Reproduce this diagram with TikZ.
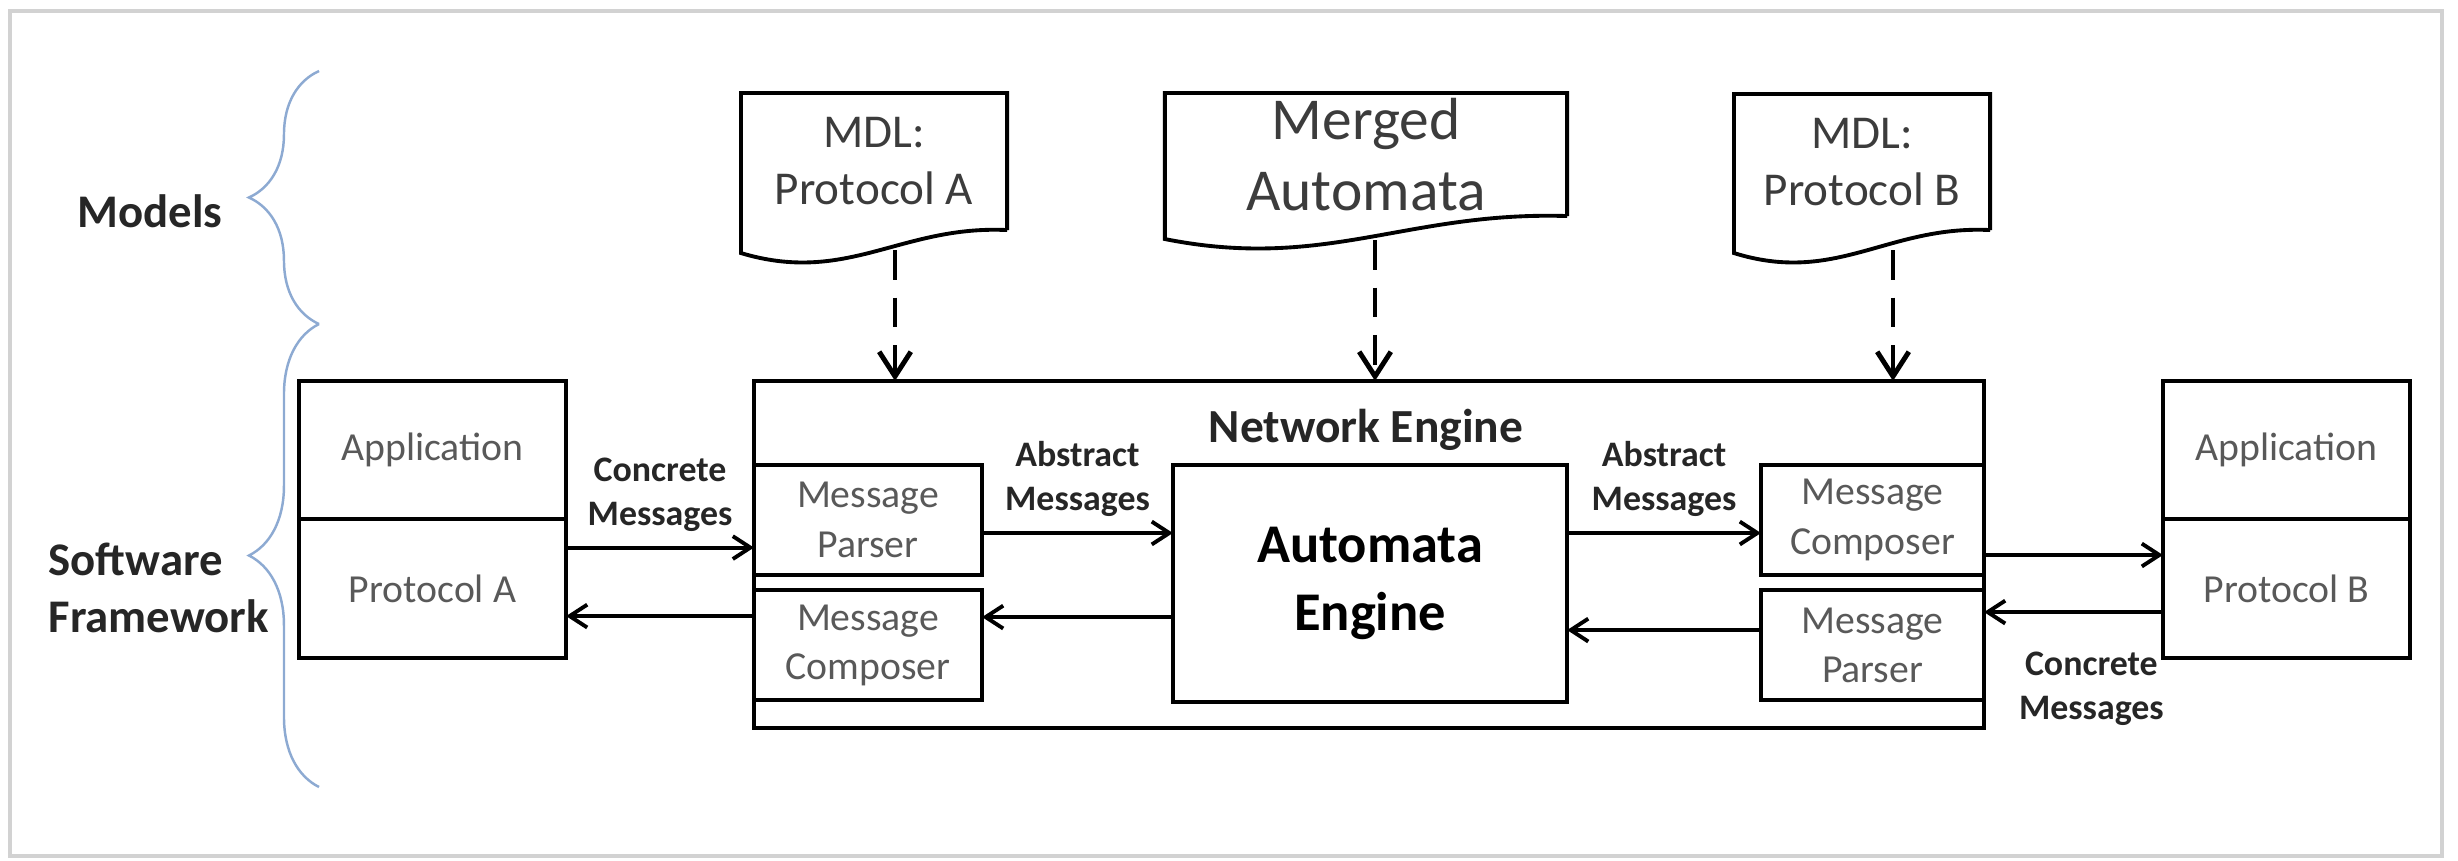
\documentclass[tikz,border=0pt]{standalone}
\usepackage{fontspec}
\setmainfont{Carlito}
\usepackage{xcolor}
\usetikzlibrary{arrows.meta,positioning,calc,decorations.pathreplacing}

\definecolor{boxtext}{RGB}{89,89,89}
\definecolor{doctext}{RGB}{60,60,60}
\definecolor{darktext}{RGB}{38,38,38}
\definecolor{bracecol}{RGB}{141,170,210}
\definecolor{framecol}{RGB}{210,210,210}

% outline of a document node: flat top, wavy bottom
\newcommand{\docoutline}[1]{%
  \draw[line width=1.1pt, line join=miter] (#1.south east) -- (#1.north east) -- (#1.north west)
    -- ($(#1.south west)+(0,23)$)
    .. controls ($(#1.south west)!0.4!(#1.south east)+(0,55)$) and ($(#1.south west)!0.6!(#1.south east)+(0,-5)$) .. (#1.south east);}

\begin{document}
\begin{tikzpicture}[x=0.01cm, y=-0.01cm,
    box/.style={draw, line width=1.1pt, text=boxtext, align=center, inner sep=0pt, outer sep=0pt,
        font=\fontsize{11.3}{14}\selectfont},
    doc/.style={align=center, inner sep=0pt, outer sep=0pt, text=doctext, font=\fontsize{13.4}{16.2}\selectfont},
    lbl/.style={align=center, inner sep=1pt, text=darktext, font=\bfseries\fontsize{10.2}{12.5}\selectfont},
    side/.style={inner sep=0pt, text=darktext, font=\bfseries\fontsize{13.3}{16.2}\selectfont},
    msg/.style={line width=1.1pt, -{Straight Barb[length=5pt,width=6.5pt]}},
    load/.style={line width=1.4pt, dash pattern=on 8.5pt off 5pt, -{Straight Barb[length=7pt,width=9pt]}},
    curly/.style={draw=bracecol, line width=0.7pt, decorate, decoration={brace, amplitude=0.7cm}}]

    \useasboundingbox (0,0) rectangle (2458,860);
    \draw[framecol, line width=1.2pt] (10,11) rectangle (2442,856);

    % layers on the left
    \draw[curly] (319,324) -- (319,71);
    \draw[curly] (319,787) -- (319,324);
    \node[side] (models) at (150,211) {Models};
    \node[side, align=left, anchor=west] (framework) at (48,588) {Software\\Framework};

    % models
    \node[doc, minimum width=2.66cm, minimum height=1.37cm] (docA) at (874,161.5) {MDL:\\Protocol A};
    \node[doc, minimum width=4.02cm, minimum height=1.23cm, font=\fontsize{16.9}{20}\selectfont] (docM) at (1366,154.5) {Merged\\Automata};
    \node[doc, minimum width=2.56cm, minimum height=1.36cm] (docB) at (1862,162) {MDL:\\Protocol B};
    \docoutline{docA}
    \docoutline{docM}
    \docoutline{docB}

    % applications
    \node[box, minimum width=2.67cm, minimum height=1.38cm] (appA) at (432.5,450) {Application};
    \node[box, minimum width=2.67cm, minimum height=1.39cm, below=0pt of appA] (protoA) {Protocol A};
    \node[box, minimum width=2.47cm, minimum height=1.38cm] (appB) at (2286.5,450) {Application};
    \node[box, minimum width=2.47cm, minimum height=1.39cm, below=0pt of appB] (protoB) {Protocol B};

    % network engine
    \node[draw, line width=1.1pt, minimum width=12.30cm, minimum height=3.47cm, inner sep=0pt, outer sep=0pt] (neteng) at (1369,554.5) {};
    \node[text=darktext, font=\bfseries\fontsize{13.5}{16}\selectfont] (netlbl) at (1366,430) {Network Engine};
    \node[box, minimum width=2.28cm, minimum height=1.10cm] (pA) at (868,520) {Message\\Parser};
    \node[box, minimum width=2.28cm, minimum height=1.10cm, below=0.15cm of pA] (cA) {Message\\Composer};
    \node[box, minimum width=3.94cm, minimum height=2.37cm, text=black, font=\bfseries\fontsize{15.5}{19.3}\selectfont] (ae) at (1370,583.5) {Automata\\Engine};
    \node[box, minimum width=2.23cm, minimum height=1.10cm] (cB) at (1872.5,520) {Message\\Composer};
    \node[box, minimum width=2.23cm, minimum height=1.10cm, below=0.15cm of cB] (pB) {Message\\Parser};

    % model loading
    \coordinate (la) at ($(docA.south)+(21,20)$);
    \coordinate (lm) at ($(docM.south)+(9,24)$);
    \coordinate (lb) at ($(docB.south)+(31,20)$);
    \draw[load] (la) -- (la |- neteng.north);
    \draw[load] (lm) -- (lm |- neteng.north);
    \draw[load] (lb) -- (lb |- neteng.north);

    % messages
    \coordinate (m1) at ($(protoA.east)+(0,-41)$);
    \draw[msg] (m1) -- node[above=3pt, lbl] (concA) {Concrete\\Messages} (m1 -| pA.west);
    \coordinate (m2) at ($(cA.west)+(0,-29)$);
    \draw[msg] (m2) -- (m2 -| protoA.east);
    \coordinate (m3) at ($(pA.east)+(0,13)$);
    \draw[msg] (m3) -- node[above=3pt, lbl] (absA) {Abstract\\Messages} (m3 -| ae.west);
    \coordinate (m4) at ($(cA.east)+(0,-28)$);
    \draw[msg] (m4 -| ae.west) -- (m4);
    \coordinate (m5) at ($(cB.west)+(0,13)$);
    \draw[msg] (m5 -| ae.east) -- node[above=3pt, lbl] (absB) {Abstract\\Messages} (m5);
    \coordinate (m6) at ($(pB.west)+(0,-15)$);
    \draw[msg] (m6) -- (m6 -| ae.east);
    \coordinate (m7) at ($(cB.east)+(0,35)$);
    \draw[msg] (m7) -- (m7 -| protoB.west);
    \coordinate (m8) at ($(pB.east)+(0,-33)$);
    \draw[msg] (m8 -| protoB.west) -- (m8);
    \node[lbl, anchor=north east] (concB) at ($(protoB.south west)+(5,-10)$) {Concrete\\Messages};
\end{tikzpicture}
\end{document}
